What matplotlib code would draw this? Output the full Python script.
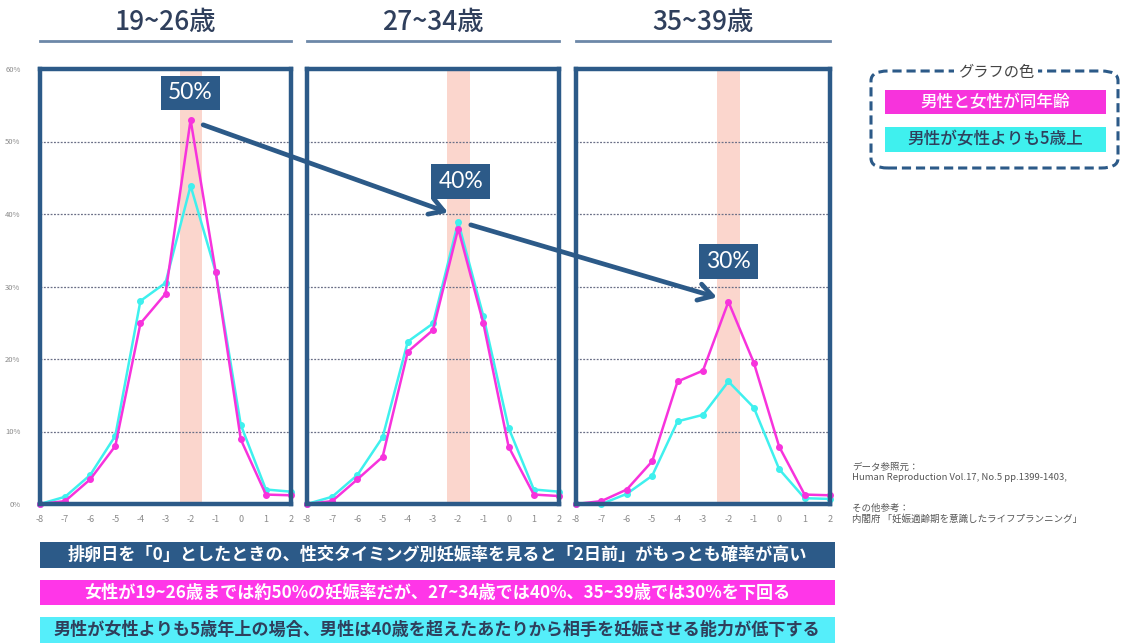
import matplotlib
matplotlib.use("Agg")
import matplotlib.pyplot as plt
from matplotlib.patches import FancyBboxPatch, Rectangle, ConnectionPatch
from matplotlib.lines import Line2D

plt.rcParams['font.family'] = ['Noto Sans CJK JP', 'DejaVu Sans']

# ---- data ----
days = [-8, -7, -6, -5, -4, -3, -2, -1, 0, 1, 2]
panel_titles = ["19~26歳", "27~34歳", "35~39歳"]
same_age = [
    [0.0, 0.4, 3.4, 8.0, 24.9, 29.0, 53.0, 32.0, 8.9, 1.3, 1.2],
    [0.0, 0.4, 3.4, 6.5, 21.0, 24.0, 38.0, 24.9, 7.9, 1.3, 1.1],
    [0.0, 0.4, 2.0, 5.9, 16.9, 18.4, 27.9, 19.5, 7.9, 1.3, 1.2],
]
man_5_older = [
    [0.0, 1.0, 4.0, 9.4, 28.0, 30.5, 43.9, 32.0, 10.9, 2.0, 1.7],
    [0.0, 1.0, 4.0, 9.2, 22.4, 24.9, 38.9, 25.9, 10.5, 2.0, 1.7],
    [0.0, 0.0, 1.4, 3.9, 11.4, 12.3, 16.9, 13.3, 4.8, 0.8, 0.7],
]
peak_labels = ["50%", "40%", "30%"]
yticks = [0, 10, 20, 30, 40, 50, 60]
legend_title = "グラフの色"
legend_items = ["男性と女性が同年齢", "男性が女性よりも5歳上"]
banners = [
    "排卵日を「0」としたときの、性交タイミング別妊娠率を見ると「2日前」がもっとも確率が高い",
    "女性が19~26歳までは約50%の妊娠率だが、27~34歳では40%、35~39歳では30%を下回る",
    "男性が女性よりも5歳年上の場合、男性は40歳を超えたあたりから相手を妊娠させる能力が低下する",
]
source_lines = ["データ参照元：",
                "Human Reproduction Vol.17, No.5 pp.1399-1403,",
                "その他参考：",
                "内閣府 「妊娠適齢期を意識したライフプランニング」"]

# ---- style ----
W, H = 1122, 643
NAVY = '#2c5a88'
MAGENTA = '#f733dc'
CYAN = '#3ff0ee'
BAND = '#fbd6cd'
TITLE_C = '#2f3f5c'

fig = plt.figure(figsize=(W / 100, H / 100), dpi=100)
fig.patch.set_facecolor('white')

def fx(x):
    return x / W

def fy(y):
    return 1 - y / H

panel_lr = [(40, 291), (307, 559), (576, 830)]
top, bottom = 69, 504
axes = []
for i, (l, r) in enumerate(panel_lr):
    ax = fig.add_axes([fx(l), fy(bottom), (r - l) / W, (bottom - top) / H])
    axes.append(ax)
    ax.set_xlim(-8, 2)
    ax.set_ylim(0, 60)
    ax.axvspan(-2.43, -1.55, color=BAND, zorder=0, lw=0)
    for yv in yticks[1:-1]:
        ax.axhline(yv, color='#6a6f86', lw=0.9, ls=(0, (1.5, 1.2)), zorder=1)
    ax.plot(days, man_5_older[i], color=CYAN, lw=1.8, marker='o', ms=4, zorder=3, clip_on=False)
    ax.plot(days, same_age[i], color=MAGENTA, lw=1.8, marker='o', ms=4, zorder=4, clip_on=False)
    for s in ax.spines.values():
        s.set_color(NAVY)
        s.set_linewidth(3.2)
        s.set_zorder(5)
    ax.set_xticks(days)
    ax.set_xticklabels([str(d) for d in days])
    ax.tick_params(axis='x', length=0, labelsize=6.5, labelcolor='#8a8a8a', pad=8)
    ax.set_yticks(yticks)
    if i == 0:
        ax.set_yticklabels([f"{v}%" for v in yticks])
        ax.tick_params(axis='y', length=0, labelsize=5.5, labelcolor='#8a8a8a', pad=14)
    else:
        ax.set_yticklabels([])
        ax.tick_params(axis='y', length=0)
    # title and underline
    cx = (l + r) / 2
    fig.text(fx(cx), fy(22), panel_titles[i], ha='center', va='center',
             fontsize=19, color=TITLE_C, weight='medium')
    fig.add_artist(Line2D([fx(l), fx(r)], [fy(41), fy(41)], color='#6d88a8', lw=2))

# peak labels
label_pos = [(-2.0, 56.7), (-1.9, 44.5), (-2.0, 33.4)]
for ax, (x, y), t in zip(axes, label_pos, peak_labels):
    ax.text(x, y, t, ha='center', va='center', color='white', fontsize=16.5,
            family=['Lato', 'DejaVu Sans'], zorder=10,
            bbox=dict(boxstyle='square,pad=0.3', fc=NAVY, ec='none'))

# arrows between panels
arrows = [((-1.5, 52.3), axes[0], (-2.4, 40.2), axes[1]),
          ((-1.5, 38.5), axes[1], (-2.45, 28.5), axes[2])]
for (p0, a0, p1, a1) in arrows:
    con = ConnectionPatch(xyA=p0, coordsA=a0.transData, xyB=p1, coordsB=a1.transData,
                          arrowstyle='->,head_length=1.0,head_width=0.6',
                          color=NAVY, lw=3.4, zorder=20)
    fig.add_artist(con)

# legend box
lb = FancyBboxPatch((fx(871), fy(168)), (1118 - 871) / W, (168 - 71) / H,
                    boxstyle='round,pad=0,rounding_size=0.015',
                    transform=fig.transFigure, fill=False, ec=NAVY, lw=2.2,
                    ls=(0, (3, 1.6)))
fig.add_artist(lb)
fig.text(fx(996), fy(72), legend_title, ha='center', va='center', fontsize=11,
         color='#444444', bbox=dict(boxstyle='square,pad=0.25', fc='white', ec='none'))
leg_colors = [MAGENTA, CYAN]
leg_text_c = ['white', '#2f3f5c']
leg_y = [(90, 114), (127, 152)]
for t, c, tc, (y0, y1) in zip(legend_items, leg_colors, leg_text_c, leg_y):
    fig.add_artist(Rectangle((fx(885), fy(y1)), (1106 - 885) / W, (y1 - y0) / H,
                             transform=fig.transFigure, fc=c, ec='none'))
    fig.text(fx(995), fy((y0 + y1) / 2), t, ha='center', va='center', fontsize=12,
             color=tc, weight='medium')

# sources
src_y = [467, 478, 508, 519]
for t, y in zip(source_lines, src_y):
    fig.text(fx(852), fy(y), t, ha='left', va='center', fontsize=6.8, color='#555555')

# bottom banners
ban_colors = [NAVY, '#ff36e8', '#55eefa']
ban_text = ['white', 'white', '#2f3f5c']
ban_y = [(542, 568), (580, 605), (617, 643)]
for t, c, tc, (y0, y1) in zip(banners, ban_colors, ban_text, ban_y):
    fig.add_artist(Rectangle((fx(40), fy(y1)), (835 - 40) / W, (y1 - y0) / H,
                             transform=fig.transFigure, fc=c, ec='none'))
    fig.text(fx(437), fy((y0 + y1) / 2), t, ha='center', va='center', fontsize=12.3,
             color=tc, weight='bold')

fig.savefig('out.png', dpi=100, facecolor='white')
